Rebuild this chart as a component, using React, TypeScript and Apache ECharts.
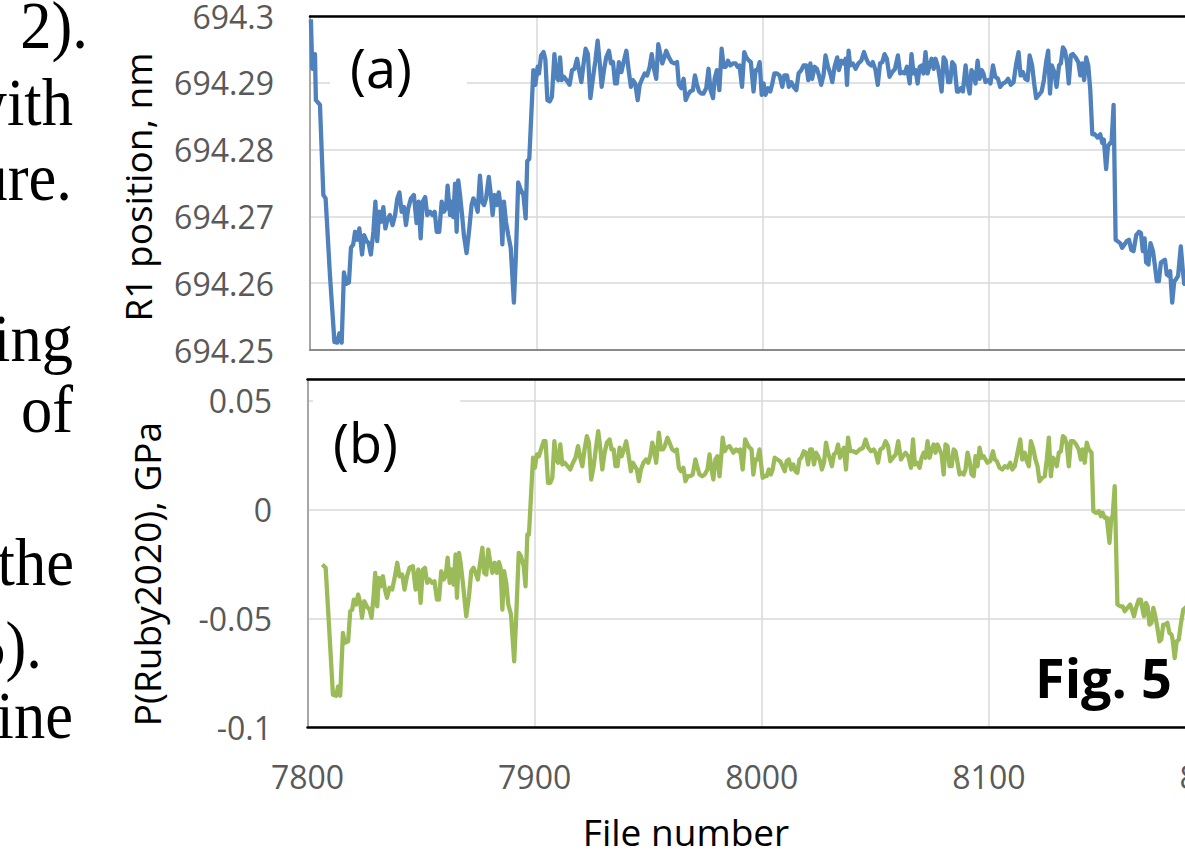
import React, { useEffect, useRef } from "react";
import * as echarts from "echarts";

// ---------- data ----------
const xTicks = [7800, 7900, 8000, 8100, 8200];

const r1Files = [
  7800.4, 7801.0, 7802.2, 7802.6, 7804.4, 7805.9, 7806.9, 7808.8, 7810.8, 7812.0, 7813.0, 7814.0, 7815.0, 7816.0, 7817.2,
  7818.1, 7819.1, 7819.9, 7820.9, 7821.8, 7823.0, 7823.9, 7825.0, 7825.9, 7826.9, 7828.0, 7828.9, 7829.7, 7830.6, 7831.5,
  7832.4, 7833.3, 7834.2, 7835.3, 7836.5, 7837.6, 7838.6, 7839.5, 7840.5, 7841.5, 7842.4, 7843.4, 7844.6, 7845.9, 7847.1,
  7848.0, 7848.9, 7849.8, 7850.9, 7851.8, 7853.0, 7854.2, 7855.1, 7856.0, 7857.1, 7858.2, 7859.2, 7860.1, 7860.8, 7861.9,
  7862.7, 7863.3, 7864.1, 7864.8, 7865.5, 7866.3, 7867.2, 7868.0, 7869.2, 7870.4, 7871.4, 7872.2, 7873.2, 7874.1, 7875.1,
  7876.0, 7876.9, 7877.8, 7879.0, 7879.8, 7880.7, 7881.6, 7882.5, 7883.4, 7884.2, 7885.0, 7885.7, 7886.6, 7887.6, 7888.7,
  7890.1, 7891.0, 7892.0, 7893.0, 7894.3, 7895.3, 7896.0, 7896.9, 7898.7, 7899.6, 7900.6, 7901.2, 7902.1, 7903.2, 7904.0,
  7904.9, 7905.9, 7906.9, 7908.0, 7908.8, 7909.7, 7910.5, 7911.2, 7912.2, 7913.3, 7914.7, 7915.8, 7916.9, 7918.0, 7918.9,
  7919.9, 7920.9, 7921.8, 7922.8, 7923.9, 7925.0, 7926.1, 7927.1, 7928.0, 7928.9, 7929.9, 7930.9, 7932.1, 7933.0, 7933.9,
  7934.8, 7935.6, 7936.5, 7937.6, 7938.6, 7939.8, 7940.8, 7941.8, 7942.7, 7943.7, 7944.8, 7945.7, 7946.8, 7947.9, 7949.0,
  7950.1, 7951.0, 7951.8, 7953.0, 7953.9, 7954.8, 7955.7, 7956.6, 7957.4, 7958.6, 7959.8, 7961.0, 7962.2, 7963.0, 7964.1,
  7965.1, 7966.0, 7967.0, 7968.0, 7969.2, 7970.1, 7970.9, 7971.9, 7972.9, 7973.9, 7975.1, 7976.1, 7977.0, 7978.1, 7978.8,
  7979.8, 7980.9, 7981.9, 7982.8, 7983.7, 7984.7, 7985.7, 7986.9, 7988.1, 7988.9, 7989.8, 7990.9, 7991.9, 7992.8, 7994.0,
  7994.8, 7996.0, 7996.9, 7997.8, 7998.7, 7999.6, 8000.4, 8001.3, 8002.4, 8003.4, 8004.3, 8005.2, 8006.3, 8007.5, 8008.7,
  8009.6, 8010.8, 8011.6, 8012.7, 8013.7, 8014.9, 8015.9, 8017.1, 8018.1, 8019.3, 8020.2, 8021.1, 8021.9, 8023.0, 8024.0,
  8024.9, 8025.9, 8026.9, 8027.8, 8028.9, 8029.9, 8030.8, 8031.8, 8033.0, 8033.7, 8034.8, 8035.8, 8036.7, 8037.3, 8038.0,
  8038.7, 8039.9, 8041.1, 8042.3, 8043.6, 8044.8, 8045.8, 8046.8, 8047.9, 8048.7, 8049.9, 8050.9, 8051.9, 8052.9, 8053.9,
  8054.9, 8056.1, 8057.3, 8058.5, 8059.8, 8060.8, 8061.7, 8062.7, 8063.8, 8065.0, 8065.8, 8066.7, 8067.6, 8068.5, 8069.4,
  8070.3, 8071.1, 8072.0, 8072.9, 8073.8, 8074.7, 8075.6, 8076.4, 8077.5, 8078.2, 8079.1, 8080.0, 8080.9, 8082.0, 8082.9,
  8083.8, 8084.8, 8085.9, 8086.7, 8087.6, 8088.5, 8089.7, 8090.6, 8091.5, 8092.3, 8093.2, 8094.1, 8095.0, 8095.9, 8096.8,
  8097.6, 8098.5, 8099.7, 8100.7, 8101.8, 8102.8, 8104.0, 8105.0, 8106.2, 8107.4, 8108.5, 8109.7, 8110.9, 8112.1, 8113.1,
  8114.0, 8115.0, 8116.1, 8117.1, 8118.0, 8119.1, 8120.0, 8120.9, 8122.1, 8123.3, 8124.3, 8125.3, 8126.2, 8127.0, 8127.8,
  8128.9, 8129.9, 8131.0, 8131.8, 8132.7, 8133.6, 8134.5, 8135.3, 8136.2, 8137.1, 8138.3, 8139.5, 8140.4, 8141.2, 8142.1,
  8143.0, 8143.9, 8144.8, 8145.7, 8146.8, 8148.0, 8149.2, 8150.1, 8150.8, 8151.8, 8152.6, 8153.6, 8154.2, 8155.1, 8156.0,
  8156.8, 8158.0, 8158.9, 8159.9, 8160.9, 8161.9, 8162.9, 8163.9, 8165.1, 8166.3, 8167.2, 8168.0, 8168.8, 8169.5, 8170.5,
  8171.4, 8172.5, 8173.3, 8174.2, 8175.1, 8176.0, 8176.9, 8177.8, 8178.6, 8179.5, 8180.1, 8181.0, 8181.9, 8182.7, 8183.6,
  8184.8, 8185.6, 8186.3, 8187.5,
];

const r1Values = [
  694.2995, 694.2921, 694.2943, 694.2874, 694.2867, 694.2732, 694.2727, 694.2613, 694.2512, 694.2511, 694.2525, 694.2511, 694.2616, 694.2599, 694.2601,
  694.2653, 694.2658, 694.2677, 694.2665, 694.2682, 694.2643, 694.2672, 694.2663, 694.266, 694.2643, 694.2677, 694.2722, 694.2663, 694.2707, 694.2692,
  694.2714, 694.2682, 694.2695, 694.2702, 694.2687, 694.2702, 694.2727, 694.2736, 694.2707, 694.2714, 694.2687, 694.2712, 694.2727, 694.2732, 694.269,
  694.2722, 694.2667, 694.2722, 694.2729, 694.2702, 694.2707, 694.2702, 694.2707, 694.2677, 694.2677, 694.2722, 694.2707, 694.2712, 694.2746, 694.2702,
  694.2722, 694.2699, 694.2749, 694.2677, 694.2754, 694.2732, 694.2702, 694.2672, 694.2645, 694.2682, 694.2717, 694.2727, 694.2719, 694.2707, 694.2761,
  694.2722, 694.2717, 694.2727, 694.2759, 694.2736, 694.2702, 694.2732, 694.2717, 694.2736, 694.2717, 694.2658, 694.2722, 694.2692, 694.2672, 694.2653,
  694.2571, 694.2643, 694.2751, 694.2741, 694.2732, 694.2697, 694.2783, 694.2786, 694.2919, 694.2897, 694.2924, 694.2914, 694.2941, 694.2946, 694.2935,
  694.2874, 694.2872, 694.2879, 694.2943, 694.2909, 694.2904, 694.2938, 694.2904, 694.2909, 694.2904, 694.2897, 694.2919, 694.2921, 694.2936, 694.2919,
  694.2901, 694.2929, 694.2951, 694.2943, 694.2877, 694.2906, 694.2933, 694.2963, 694.2931, 694.2894, 694.2919, 694.2938, 694.2948, 694.2929, 694.2931,
  694.2899, 694.2899, 694.2931, 694.2916, 694.2931, 694.2948, 694.2919, 694.2894, 694.2904, 694.2899, 694.2874, 694.2897, 694.2906, 694.2914, 694.2911,
  694.2924, 694.2943, 694.2924, 694.2906, 694.2958, 694.2943, 694.2929, 694.2938, 694.2948, 694.2938, 694.2931, 694.2929, 694.2931, 694.2897, 694.2892,
  694.2906, 694.2874, 694.2882, 694.2887, 694.2889, 694.2911, 694.2899, 694.2887, 694.2884, 694.2884, 694.2892, 694.2921, 694.2889, 694.2877, 694.2906,
  694.2919, 694.2889, 694.2951, 694.2924, 694.2924, 694.2933, 694.2926, 694.2929, 694.2929, 694.2924, 694.2926, 694.2894, 694.2946, 694.2938, 694.2933,
  694.2931, 694.2887, 694.2919, 694.2919, 694.2931, 694.2882, 694.2899, 694.2882, 694.2892, 694.2887, 694.2899, 694.2914, 694.2914, 694.2911, 694.2894,
  694.2911, 694.2911, 694.2894, 694.2901, 694.2894, 694.2889, 694.2914, 694.2919, 694.2926, 694.2926, 694.2904, 694.2929, 694.2906, 694.2924, 694.2921,
  694.2911, 694.2897, 694.2911, 694.2941, 694.2924, 694.2914, 694.2901, 694.2924, 694.2938, 694.2919, 694.2933, 694.2929, 694.2936, 694.2897, 694.2948,
  694.2926, 694.2929, 694.2921, 694.2929, 694.2933, 694.2946, 694.2936, 694.2929, 694.2926, 694.2931, 694.2919, 694.2897, 694.2929, 694.2931, 694.2943,
  694.2936, 694.2909, 694.2916, 694.2921, 694.2941, 694.2914, 694.2916, 694.2914, 694.2924, 694.2899, 694.2943, 694.2914, 694.2919, 694.2899, 694.2924,
  694.2926, 694.2914, 694.2946, 694.2914, 694.2926, 694.2936, 694.2921, 694.2936, 694.2924, 694.2909, 694.2887, 694.2938, 694.2933, 694.2901, 694.2901,
  694.2931, 694.2926, 694.2887, 694.2887, 694.2892, 694.2887, 694.2926, 694.2899, 694.2884, 694.2919, 694.2914, 694.2899, 694.2933, 694.2906, 694.2919,
  694.2914, 694.2901, 694.2904, 694.2899, 694.2926, 694.2909, 694.2906, 694.2894, 694.2899, 694.2901, 694.2906, 694.2897, 694.2901, 694.2929, 694.2946,
  694.2911, 694.2916, 694.2906, 694.2904, 694.2941, 694.2926, 694.2899, 694.2877, 694.2882, 694.2887, 694.2904, 694.2931, 694.2948, 694.2884, 694.2926,
  694.2916, 694.2894, 694.2926, 694.2929, 694.2953, 694.2948, 694.2931, 694.2899, 694.2941, 694.2943, 694.2938, 694.2931, 694.2911, 694.2929, 694.2904,
  694.2938, 694.2926, 694.2889, 694.2823, 694.2823, 694.2818, 694.2823, 694.281, 694.2815, 694.2771, 694.2805, 694.281, 694.281, 694.2867, 694.2665,
  694.2663, 694.266, 694.2653, 694.2658, 694.2663, 694.2665, 694.265, 694.2648, 694.2672, 694.2677, 694.2675, 694.2648, 694.2667, 694.2631, 694.2628,
  694.266, 694.2648, 694.2628, 694.2603, 694.2603, 694.2631, 694.2633, 694.2635, 694.2613, 694.2611, 694.2618, 694.2571, 694.2603, 694.2606, 694.2611,
  694.2655, 694.2623, 694.2599, 694.261,
];

const pFiles = [
  7806.5, 7808.0, 7809.4, 7811.2, 7812.6, 7813.5, 7814.4, 7815.6, 7816.4, 7817.9, 7818.8, 7819.7, 7820.4, 7821.4, 7822.3,
  7823.2, 7824.0, 7825.0, 7826.1, 7827.3, 7828.2, 7829.1, 7829.8, 7830.7, 7831.4, 7832.3, 7833.2, 7834.1, 7835.0, 7836.1,
  7837.3, 7838.5, 7839.5, 7840.5, 7841.7, 7842.7, 7843.8, 7844.9, 7846.4, 7847.6, 7848.8, 7849.8, 7850.8, 7851.7, 7852.7,
  7853.7, 7854.9, 7855.9, 7857.0, 7857.9, 7858.9, 7859.9, 7860.8, 7861.7, 7862.6, 7863.4, 7864.3, 7865.2, 7865.8, 7866.7,
  7867.4, 7868.4, 7869.9, 7871.1, 7872.1, 7873.1, 7874.0, 7875.0, 7876.0, 7877.0, 7877.8, 7878.7, 7879.6, 7880.5, 7881.4,
  7882.4, 7883.4, 7884.3, 7885.0, 7885.8, 7886.6, 7887.5, 7888.4, 7889.6, 7891.0, 7891.9, 7893.0, 7894.0, 7895.2, 7896.0,
  7896.8, 7897.5, 7899.3, 7900.1, 7901.0, 7901.9, 7902.8, 7904.0, 7904.8, 7905.9, 7906.9, 7907.8, 7908.7, 7909.5, 7910.4,
  7911.3, 7912.2, 7913.3, 7914.5, 7915.7, 7916.9, 7918.0, 7919.1, 7920.1, 7921.0, 7922.0, 7923.0, 7923.9, 7924.9, 7926.0,
  7927.0, 7928.0, 7928.9, 7929.8, 7930.8, 7931.8, 7933.0, 7933.9, 7934.8, 7935.6, 7936.5, 7937.4, 7938.3, 7939.3, 7940.3,
  7941.3, 7942.4, 7943.3, 7944.1, 7945.0, 7945.9, 7946.8, 7947.9, 7949.1, 7950.0, 7950.9, 7951.8, 7952.6, 7953.5, 7954.7,
  7955.6, 7956.5, 7957.3, 7958.5, 7959.4, 7960.6, 7961.7, 7962.6, 7963.5, 7964.5, 7965.5, 7966.4, 7967.4, 7968.5, 7969.6,
  7970.8, 7971.7, 7972.6, 7973.8, 7974.9, 7976.1, 7977.0, 7977.9, 7978.7, 7979.6, 7980.5, 7981.4, 7982.3, 7982.8, 7983.7,
  7984.6, 7985.8, 7986.7, 7987.5, 7988.7, 7989.6, 7990.5, 7991.6, 7992.7, 7993.7, 7994.6, 7995.5, 7996.3, 7997.2, 7998.1,
  7999.0, 8000.4, 8001.3, 8002.2, 8003.1, 8004.0, 8004.8, 8005.7, 8006.9, 8008.1, 8009.2, 8010.1, 8011.0, 8011.9, 8013.0,
  8013.9, 8014.8, 8015.7, 8016.6, 8017.4, 8018.5, 8019.5, 8020.4, 8021.3, 8022.1, 8023.0, 8023.9, 8024.8, 8025.7, 8026.5,
  8027.4, 8028.3, 8029.2, 8030.1, 8030.9, 8031.8, 8032.7, 8033.6, 8034.5, 8035.3, 8036.2, 8037.1, 8038.0, 8039.0, 8040.2,
  8041.6, 8043.1, 8044.6, 8045.7, 8046.9, 8048.1, 8049.3, 8050.1, 8051.2, 8052.2, 8053.4, 8054.5, 8055.6, 8056.6, 8057.8,
  8059.0, 8060.1, 8061.3, 8062.2, 8063.3, 8064.5, 8065.7, 8066.6, 8067.4, 8068.5, 8069.5, 8070.4, 8071.3, 8072.1, 8073.0,
  8073.9, 8074.8, 8075.7, 8076.5, 8077.4, 8078.3, 8079.2, 8080.1, 8080.9, 8081.8, 8082.7, 8083.6, 8084.5, 8085.3, 8086.2,
  8087.1, 8088.0, 8088.9, 8089.7, 8090.6, 8091.5, 8092.4, 8093.3, 8094.1, 8095.0, 8095.9, 8096.8, 8097.7, 8098.5, 8099.4,
  8100.6, 8101.8, 8102.6, 8103.5, 8104.7, 8105.9, 8107.0, 8108.2, 8109.4, 8110.3, 8111.4, 8112.6, 8113.8, 8114.7, 8115.8,
  8116.7, 8117.6, 8118.5, 8119.6, 8120.5, 8121.4, 8122.3, 8123.5, 8124.6, 8125.5, 8126.4, 8127.3, 8128.2, 8129.0, 8129.9,
  8130.8, 8131.7, 8132.6, 8133.4, 8134.3, 8135.2, 8136.1, 8137.2, 8138.4, 8139.6, 8140.5, 8141.3, 8142.2, 8143.1, 8144.0,
  8145.2, 8146.0, 8147.2, 8148.4, 8149.3, 8150.1, 8151.0, 8151.9, 8153.1, 8153.9, 8154.5, 8155.4, 8156.6, 8157.8, 8158.9,
  8159.8, 8161.0, 8162.2, 8163.0, 8163.9, 8164.8, 8166.0, 8166.9, 8167.4, 8168.3, 8169.2, 8169.9, 8170.7, 8171.6, 8172.4,
  8173.3, 8174.2, 8175.1, 8175.9, 8176.8, 8177.7, 8178.6, 8179.5, 8180.4, 8180.9, 8181.8, 8182.7, 8183.6, 8184.6, 8185.6,
  8186.5, 8188.0,
];

const pValues = [
  -0.0253, -0.0268, -0.0521, -0.0851, -0.0856, -0.0813, -0.0856, -0.0567, -0.0613, -0.0606, -0.0468, -0.046, -0.0414, -0.0437, -0.0391,
  -0.0429, -0.0498, -0.0422, -0.0445, -0.046, -0.0498, -0.0399, -0.0291, -0.0445, -0.0314, -0.0353, -0.0307, -0.0368, -0.0406, -0.036,
  -0.0368, -0.0307, -0.0245, -0.0307, -0.0299, -0.0368, -0.0307, -0.0268, -0.0261, -0.0368, -0.0276, -0.0429, -0.0276, -0.0268, -0.0337,
  -0.0322, -0.0337, -0.033, -0.0414, -0.0414, -0.0284, -0.0322, -0.0307, -0.0222, -0.0337, -0.0276, -0.0345, -0.0207, -0.0406, -0.0199,
  -0.0245, -0.0337, -0.0491, -0.0399, -0.0284, -0.0268, -0.0291, -0.0322, -0.0245, -0.0176, -0.0291, -0.0299, -0.0184, -0.0245, -0.0291,
  -0.0245, -0.0291, -0.0242, -0.0268, -0.046, -0.0284, -0.0337, -0.0437, -0.0483, -0.0698, -0.0491, -0.0199, -0.0215, -0.0261, -0.0353,
  -0.0115, -0.0115, 0.0238, 0.0192, 0.0253, 0.0245, 0.0276, 0.0314, 0.0314, 0.0123, 0.0123, 0.0146, 0.0314, 0.023, 0.0215,
  0.0299, 0.0207, 0.0215, 0.0199, 0.0184, 0.0215, 0.0238, 0.0291, 0.0238, 0.0199, 0.0276, 0.0337, 0.0307, 0.0138, 0.0199,
  0.0284, 0.036, 0.0284, 0.0184, 0.0261, 0.0307, 0.0322, 0.0276, 0.0276, 0.0199, 0.0199, 0.0284, 0.0245, 0.0276, 0.0314,
  0.0253, 0.0176, 0.0215, 0.0199, 0.0184, 0.013, 0.0184, 0.0215, 0.023, 0.0215, 0.0245, 0.0307, 0.0276, 0.0215, 0.0353,
  0.0276, 0.0276, 0.0291, 0.033, 0.0307, 0.0276, 0.0268, 0.0276, 0.0192, 0.0176, 0.0192, 0.013, 0.0153, 0.0153, 0.0161,
  0.023, 0.0192, 0.0161, 0.0153, 0.0161, 0.0184, 0.0253, 0.0184, 0.0138, 0.023, 0.0245, 0.0153, 0.0261, 0.033, 0.0268,
  0.0284, 0.0291, 0.0276, 0.0261, 0.0276, 0.0268, 0.0276, 0.0184, 0.0322, 0.0299, 0.0284, 0.0276, 0.0161, 0.023, 0.023,
  0.0276, 0.0146, 0.0153, 0.0153, 0.0184, 0.0161, 0.0184, 0.0238, 0.023, 0.0222, 0.0199, 0.0176, 0.0222, 0.023, 0.0184,
  0.0207, 0.0176, 0.0169, 0.023, 0.0238, 0.0268, 0.0261, 0.0207, 0.0276, 0.0276, 0.0207, 0.0261, 0.0245, 0.0222, 0.0184,
  0.0215, 0.0307, 0.0261, 0.023, 0.0199, 0.0253, 0.0261, 0.0299, 0.0238, 0.0268, 0.0284, 0.0184, 0.033, 0.0268, 0.0268,
  0.0261, 0.0276, 0.0284, 0.0322, 0.0284, 0.0268, 0.0276, 0.0261, 0.0215, 0.0276, 0.0284, 0.0314, 0.0291, 0.0222, 0.0238,
  0.0253, 0.0314, 0.023, 0.0245, 0.0261, 0.0245, 0.0192, 0.0322, 0.0207, 0.0215, 0.0192, 0.0238, 0.0261, 0.0238, 0.0314,
  0.0238, 0.0276, 0.0299, 0.0261, 0.0299, 0.0276, 0.0253, 0.0161, 0.0299, 0.0291, 0.0199, 0.0199, 0.0276, 0.0268, 0.0215,
  0.0161, 0.0169, 0.0161, 0.0184, 0.0261, 0.0222, 0.0161, 0.0153, 0.0245, 0.0199, 0.0284, 0.0238, 0.0245, 0.023, 0.0215,
  0.0222, 0.0268, 0.023, 0.0222, 0.0192, 0.0184, 0.0199, 0.0192, 0.0215, 0.0184, 0.0199, 0.0261, 0.0322, 0.023, 0.0261,
  0.0222, 0.0199, 0.0314, 0.0276, 0.023, 0.0199, 0.013, 0.0146, 0.0153, 0.023, 0.033, 0.0153, 0.0238, 0.023, 0.0199,
  0.0261, 0.0268, 0.0337, 0.033, 0.0299, 0.0199, 0.0314, 0.0314, 0.0299, 0.0276, 0.023, 0.0276, 0.0215, 0.0307, 0.0276,
  0.0261, -0.0008, -0.0015, -0.0008, -0.0031, -0.0015, -0.0038, -0.0038, -0.0153, -0.0038, -0.0031, 0.0107, -0.0437, -0.0445, -0.0445,
  -0.0468, -0.0452, -0.0437, -0.046, -0.0491, -0.0452, -0.0414, -0.0414, -0.0445, -0.0491, -0.0429, -0.0445, -0.0529, -0.0521, -0.0452,
  -0.0491, -0.0544, -0.0606, -0.0598, -0.0529, -0.0529, -0.0521, -0.0567, -0.0575, -0.0598, -0.0683, -0.0606, -0.0598, -0.0521, -0.046,
  -0.0452, -0.044,
];

const bodyTextLines = ["2).", "with", "ure.", "ing", "of", "the", "5).", "ine"];

export default function App() {
  const ref = useRef<HTMLDivElement>(null);

  useEffect(() => {
    if (!ref.current) return;
    const chart = echarts.init(ref.current, undefined, { renderer: "svg" });

    const sans = "'Open Sans', 'Noto Sans', sans-serif";
    const gridColor = "#d9d9d9";
    const tickColor = "#595959";

    // positions (right edge, text-centre y) of the clipped body text lines
    const bodyPos = [
      [88, 25], [73, 102], [72, 177], [73, 338], [73, 409], [74, 562], [42, 645], [73, 715],
    ];

    const xBase = {
      type: "value", min: xTicks[0], max: xTicks[xTicks.length - 1], interval: 100,
      axisTick: { show: false },
    };

    const option: any = {
      animation: false,
      backgroundColor: "#ffffff",
      grid: [
        { left: 310, top: 13.5, width: 905.2, height: 336.5, containLabel: false },
        { left: 307.5, top: 379, width: 908.5, height: 348, containLabel: false },
      ],
      xAxis: [
        {
          ...xBase, gridIndex: 0, position: "bottom",
          axisLine: { show: true, onZero: false, lineStyle: { color: "#8a8a8a", width: 2 } },
          axisLabel: { show: false },
          splitLine: { show: true, lineStyle: { color: gridColor, width: 1.5 } },
        },
        {
          ...xBase, gridIndex: 0, position: "top",
          axisLine: { show: true, onZero: false, lineStyle: { color: "#000000", width: 2.5 } },
          axisLabel: { show: false },
          splitLine: { show: false },
        },
        {
          ...xBase, gridIndex: 1, position: "bottom",
          axisLine: { show: true, onZero: false, lineStyle: { color: "#000000", width: 2.5 } },
          axisLabel: {
            show: true, color: tickColor, fontFamily: sans, fontSize: 32, margin: 33,
            formatter: (v: number) => String(v),
          },
          splitLine: { show: true, lineStyle: { color: gridColor, width: 1.5 } },
        },
        {
          ...xBase, gridIndex: 1, position: "top",
          axisLine: { show: true, onZero: false, lineStyle: { color: "#000000", width: 2.5 } },
          axisLabel: { show: false },
          splitLine: { show: false },
        },
      ],
      yAxis: [
        {
          gridIndex: 0, type: "value", min: 694.25, max: 694.3, interval: 0.01,
          axisLine: { show: true, onZero: false, lineStyle: { color: "#a6a6a6", width: 2 } },
          axisTick: { show: false },
          axisLabel: {
            color: tickColor, fontFamily: sans, fontSize: 32, margin: 36,
            formatter: (v: number) => String(Number(v.toFixed(2))),
          },
          splitLine: { show: true, lineStyle: { color: gridColor, width: 1.5 } },
        },
        {
          gridIndex: 1, type: "value", min: -0.1, max: 0.06, interval: 0.05,
          axisLine: { show: true, onZero: false, lineStyle: { color: "#a6a6a6", width: 2 } },
          axisTick: { show: false },
          axisLabel: {
            color: tickColor, fontFamily: sans, fontSize: 32, margin: 35.5, showMaxLabel: false,
            formatter: (v: number) => String(Number(v.toFixed(2))),
          },
          splitLine: { show: true, lineStyle: { color: gridColor, width: 1.5 } },
        },
      ],
      series: [
        {
          type: "line", xAxisIndex: 0, yAxisIndex: 0, symbol: "none", showSymbol: false, z: 3,
          lineStyle: { color: "#4f81bd", width: 4.3, join: "round" },
          data: r1Files.map((f, i) => [f, r1Values[i]]),
        },
        {
          type: "line", xAxisIndex: 2, yAxisIndex: 1, symbol: "none", showSymbol: false, z: 3,
          lineStyle: { color: "#9bbb59", width: 4.3, join: "round" },
          data: pFiles.map((f, i) => [f, pValues[i]]),
        },
      ],
      graphic: [
        // clipped body text of the paper page on the left
        ...bodyTextLines.map((t, i) => ({
          type: "text", x: bodyPos[i][0], y: bodyPos[i][1], scaleX: 0.92, z: 10,
          style: {
            text: t, align: "right", verticalAlign: "middle",
            font: "68px 'Liberation Serif', 'Times New Roman', serif", fill: "#000000",
          },
        })),
        // axis titles
        {
          type: "text", x: 137, y: 187, rotation: Math.PI / 2, z: 10,
          style: { text: "R1 position, nm", align: "center", verticalAlign: "middle", font: `37px ${sans}`, fill: "#000000" },
        },
        {
          type: "text", x: 146, y: 574, rotation: Math.PI / 2, z: 10,
          style: { text: "P(Ruby2020), GPa", align: "center", verticalAlign: "middle", font: `37px ${sans}`, fill: "#000000" },
        },
        {
          type: "text", x: 686, y: 831, z: 10,
          style: { text: "File number", align: "center", verticalAlign: "middle", font: `37px ${sans}`, fill: "#000000" },
        },
        // panel labels with white boxes
        { type: "rect", shape: { x: 330, y: 35, width: 137, height: 70 }, style: { fill: "#ffffff" }, z: 5 },
        {
          type: "text", x: 350, y: 67, z: 10,
          style: { text: "(a)", align: "left", verticalAlign: "middle", font: `54px ${sans}`, fill: "#000000" },
        },
        { type: "rect", shape: { x: 313, y: 388, width: 147, height: 90 }, style: { fill: "#ffffff" }, z: 5 },
        {
          type: "text", x: 333, y: 442, z: 10,
          style: { text: "(b)", align: "left", verticalAlign: "middle", font: `54px ${sans}`, fill: "#000000" },
        },
        {
          type: "text", x: 1035, y: 677, z: 10,
          style: { text: "Fig. 5", align: "left", verticalAlign: "middle", font: `bold 54px ${sans}`, fill: "#000000" },
        },
      ],
    };

    chart.setOption(option);
    return () => chart.dispose();
  }, []);

  return (
    <div style={{ position: "fixed", left: 0, top: 0, width: 1185, height: 852, overflow: "hidden", background: "#ffffff" }}>
      <div ref={ref} style={{ position: "absolute", left: 0, top: 0, width: 1300, height: 852 }} />
    </div>
  );
}
